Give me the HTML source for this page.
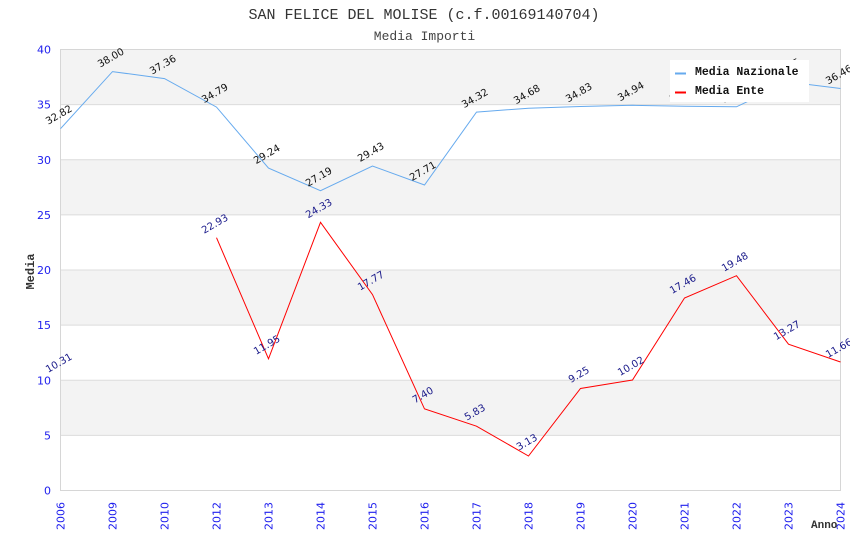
<!DOCTYPE html>
<html><head><meta charset="utf-8"><style>
html,body{margin:0;padding:0;background:#fff;}
svg{display:block;}
</style></head><body>
<svg width="850" height="550" viewBox="0 0 850 550" xmlns="http://www.w3.org/2000/svg">
<rect width="850" height="550" fill="#fff"/>
<!-- bands -->
<rect x="60.5" y="49.5" width="780" height="55.125" fill="#f3f3f3"/>
<rect x="60.5" y="159.75" width="780" height="55.125" fill="#f3f3f3"/>
<rect x="60.5" y="270" width="780" height="55.125" fill="#f3f3f3"/>
<rect x="60.5" y="380.25" width="780" height="55.125" fill="#f3f3f3"/>
<g stroke="#dcdcdc" stroke-width="1">
<line x1="60.5" x2="840.5" y1="104.6" y2="104.6"/>
<line x1="60.5" x2="840.5" y1="159.75" y2="159.75"/>
<line x1="60.5" x2="840.5" y1="214.9" y2="214.9"/>
<line x1="60.5" x2="840.5" y1="270" y2="270"/>
<line x1="60.5" x2="840.5" y1="325.1" y2="325.1"/>
<line x1="60.5" x2="840.5" y1="380.25" y2="380.25"/>
<line x1="60.5" x2="840.5" y1="435.4" y2="435.4"/>
</g>
<rect x="60.5" y="49.5" width="780" height="441" fill="none" stroke="#d6d6d6" stroke-width="1"/>

<!-- titles -->
<text x="424" y="19" text-anchor="middle" font-family="Liberation Mono, DejaVu Sans Mono, monospace" font-size="15" fill="#333">SAN FELICE DEL MOLISE (c.f.00169140704)</text>
<text x="424.5" y="40" text-anchor="middle" font-family="Liberation Mono, DejaVu Sans Mono, monospace" font-size="13" fill="#444">Media Importi</text>

<!-- y ticks -->
<g font-family="DejaVu Sans, Liberation Sans, sans-serif" font-size="11" fill="#2020ee" text-anchor="end">
<text x="51" y="53.5">40</text>
<text x="51" y="108.6">35</text>
<text x="51" y="163.8">30</text>
<text x="51" y="218.9">25</text>
<text x="51" y="274">20</text>
<text x="51" y="329.1">15</text>
<text x="51" y="384.3">10</text>
<text x="51" y="439.4">5</text>
<text x="51" y="494.5">0</text>
</g>

<!-- x ticks -->
<g font-family="DejaVu Sans, Liberation Sans, sans-serif" font-size="11" fill="#2020ee" text-anchor="end">
<text x="64.5" y="502" transform="rotate(-90 64.5 502)">2006</text>
<text x="116.5" y="502" transform="rotate(-90 116.5 502)">2009</text>
<text x="168.5" y="502" transform="rotate(-90 168.5 502)">2010</text>
<text x="220.5" y="502" transform="rotate(-90 220.5 502)">2012</text>
<text x="272.5" y="502" transform="rotate(-90 272.5 502)">2013</text>
<text x="324.5" y="502" transform="rotate(-90 324.5 502)">2014</text>
<text x="376.5" y="502" transform="rotate(-90 376.5 502)">2015</text>
<text x="428.5" y="502" transform="rotate(-90 428.5 502)">2016</text>
<text x="480.5" y="502" transform="rotate(-90 480.5 502)">2017</text>
<text x="532.5" y="502" transform="rotate(-90 532.5 502)">2018</text>
<text x="584.5" y="502" transform="rotate(-90 584.5 502)">2019</text>
<text x="636.5" y="502" transform="rotate(-90 636.5 502)">2020</text>
<text x="688.5" y="502" transform="rotate(-90 688.5 502)">2021</text>
<text x="740.5" y="502" transform="rotate(-90 740.5 502)">2022</text>
<text x="792.5" y="502" transform="rotate(-90 792.5 502)">2023</text>
<text x="844.5" y="502" transform="rotate(-90 844.5 502)">2024</text>
</g>

<!-- axis titles -->
<text x="34" y="271.5" text-anchor="middle" transform="rotate(-90 34 271.5)" font-family="Liberation Mono, DejaVu Sans Mono, monospace" font-weight="bold" font-size="12" fill="#333">Media</text>
<text x="811" y="528" font-family="Liberation Mono, DejaVu Sans Mono, monospace" font-weight="bold" font-size="11" fill="#333">Anno</text>

<!-- series: Nazionale -->
<polyline fill="none" stroke="#66aaee" stroke-width="1" points="60.5,128.7 112.5,71.6 164.5,78.6 216.5,107.1 268.5,168.1 320.5,190.7 372.5,166.0 424.5,185.0 476.5,112.1 528.5,108.2 580.5,106.5 632.5,105.3 684.5,106.3 736.5,106.8 788.5,82.0 840.5,88.5"/>
<!-- series: Ente -->
<polyline fill="none" stroke="#ff0000" stroke-width="1" points="216.5,237.7 268.5,358.8 320.5,222.3 372.5,294.6 424.5,408.9 476.5,426.2 528.5,456.0 580.5,388.5 632.5,380.0 684.5,298.0 736.5,275.7 788.5,344.2 840.5,362.0"/>

<!-- labels Nazionale -->
<g font-family="DejaVu Sans, Liberation Sans, sans-serif" font-size="10" fill="#111" text-anchor="middle">
<text x="60.5" y="117.7" transform="rotate(-30 60.5 117.7)">32.82</text>
<text x="112.5" y="60.6" transform="rotate(-30 112.5 60.6)">38.00</text>
<text x="164.5" y="67.6" transform="rotate(-30 164.5 67.6)">37.36</text>
<text x="216.5" y="96.1" transform="rotate(-30 216.5 96.1)">34.79</text>
<text x="268.5" y="157.1" transform="rotate(-30 268.5 157.1)">29.24</text>
<text x="320.5" y="179.7" transform="rotate(-30 320.5 179.7)">27.19</text>
<text x="372.5" y="155.0" transform="rotate(-30 372.5 155.0)">29.43</text>
<text x="424.5" y="174.0" transform="rotate(-30 424.5 174.0)">27.71</text>
<text x="476.5" y="101.1" transform="rotate(-30 476.5 101.1)">34.32</text>
<text x="528.5" y="97.2" transform="rotate(-30 528.5 97.2)">34.68</text>
<text x="580.5" y="95.5" transform="rotate(-30 580.5 95.5)">34.83</text>
<text x="632.5" y="94.3" transform="rotate(-30 632.5 94.3)">34.94</text>
<text x="684.5" y="95.3" transform="rotate(-30 684.5 95.3)">34.85</text>
<text x="736.5" y="95.8" transform="rotate(-30 736.5 95.8)">34.80</text>
<text x="788.5" y="71.0" transform="rotate(-30 788.5 71.0)">37.05</text>
<text x="840.5" y="77.5" transform="rotate(-30 840.5 77.5)">36.46</text>
</g>
<!-- labels Ente -->
<g font-family="DejaVu Sans, Liberation Sans, sans-serif" font-size="10" fill="#1a1a8a" text-anchor="middle">
<text x="60.5" y="365.8" transform="rotate(-30 60.5 365.8)">10.31</text>
<text x="216.5" y="226.7" transform="rotate(-30 216.5 226.7)">22.93</text>
<text x="268.5" y="347.8" transform="rotate(-30 268.5 347.8)">11.95</text>
<text x="320.5" y="211.3" transform="rotate(-30 320.5 211.3)">24.33</text>
<text x="372.5" y="283.6" transform="rotate(-30 372.5 283.6)">17.77</text>
<text x="424.5" y="397.9" transform="rotate(-30 424.5 397.9)">7.40</text>
<text x="476.5" y="415.2" transform="rotate(-30 476.5 415.2)">5.83</text>
<text x="528.5" y="445.0" transform="rotate(-30 528.5 445.0)">3.13</text>
<text x="580.5" y="377.5" transform="rotate(-30 580.5 377.5)">9.25</text>
<text x="632.5" y="369.0" transform="rotate(-30 632.5 369.0)">10.02</text>
<text x="684.5" y="287.0" transform="rotate(-30 684.5 287.0)">17.46</text>
<text x="736.5" y="264.7" transform="rotate(-30 736.5 264.7)">19.48</text>
<text x="788.5" y="333.2" transform="rotate(-30 788.5 333.2)">13.27</text>
<text x="840.5" y="351.0" transform="rotate(-30 840.5 351.0)">11.66</text>
</g>

<!-- legend -->
<rect x="670" y="60" width="139" height="42" fill="#fff"/>
<line x1="675" x2="686" y1="73.5" y2="73.5" stroke="#66aaee" stroke-width="2"/>
<line x1="675" x2="686" y1="92.5" y2="92.5" stroke="#ff0000" stroke-width="2"/>
<g font-family="Liberation Mono, DejaVu Sans Mono, monospace" font-weight="bold" font-size="11.5" fill="#111">
<text x="695" y="75">Media Nazionale</text>
<text x="695" y="94">Media Ente</text>
</g>
</svg>
</body></html>
